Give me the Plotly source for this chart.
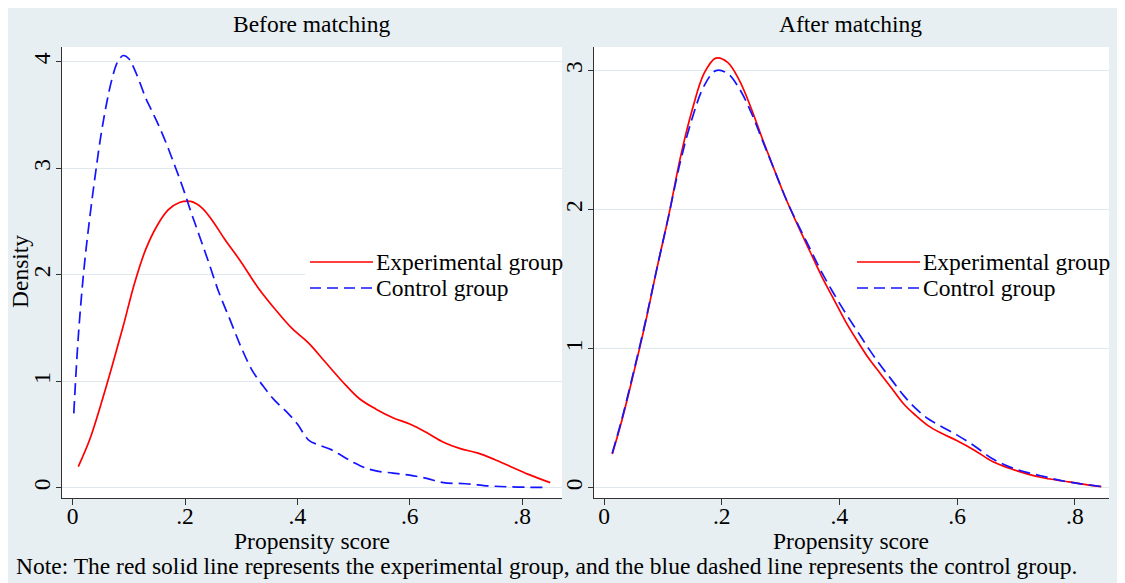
import plotly.graph_objects as go

# ---------------- data ----------------
# Before matching
before_exp_x = [0.01, 0.03, 0.05, 0.07, 0.09, 0.11, 0.13, 0.15, 0.17, 0.19, 0.21, 0.23, 0.25, 0.27,
                0.30, 0.33, 0.36, 0.39, 0.42, 0.45, 0.48, 0.51, 0.54, 0.57, 0.60, 0.63, 0.66, 0.69,
                0.72, 0.75, 0.78, 0.81, 0.85]
before_exp_y = [0.20, 0.45, 0.78, 1.14, 1.52, 1.92, 2.24, 2.46, 2.61, 2.68, 2.69, 2.63, 2.50, 2.34,
                2.12, 1.88, 1.68, 1.50, 1.36, 1.18, 1.00, 0.84, 0.74, 0.66, 0.60, 0.52, 0.43, 0.37,
                0.33, 0.27, 0.20, 0.13, 0.05]

before_ctl_x = [0.002, 0.01, 0.02, 0.03, 0.04, 0.05, 0.06, 0.07, 0.08, 0.09, 0.10, 0.11, 0.12, 0.13,
                0.14, 0.15, 0.16, 0.17, 0.18, 0.19, 0.20, 0.21, 0.22, 0.23, 0.24, 0.26, 0.28, 0.30,
                0.32, 0.34, 0.36, 0.38, 0.40, 0.42, 0.44, 0.46, 0.48, 0.50, 0.52, 0.54, 0.57, 0.60,
                0.63, 0.66, 0.70, 0.74, 0.78, 0.84]
before_ctl_y = [0.70, 1.42, 2.05, 2.52, 2.93, 3.30, 3.60, 3.84, 4.00, 4.06, 4.03, 3.93, 3.80, 3.66,
                3.55, 3.44, 3.32, 3.19, 3.05, 2.91, 2.76, 2.60, 2.45, 2.30, 2.15, 1.84, 1.58, 1.32,
                1.10, 0.95, 0.82, 0.72, 0.60, 0.45, 0.40, 0.36, 0.30, 0.24, 0.19, 0.16, 0.14, 0.12,
                0.09, 0.05, 0.04, 0.02, 0.01, 0.005]

# After matching
after_x = [0.014, 0.03, 0.05, 0.07, 0.09, 0.11, 0.13, 0.15, 0.17, 0.19, 0.21, 0.23, 0.25, 0.27,
           0.29, 0.31, 0.33, 0.35, 0.37, 0.39, 0.41, 0.43, 0.45, 0.47, 0.49, 0.51, 0.53, 0.55,
           0.57, 0.60, 0.63, 0.66, 0.69, 0.72, 0.75, 0.78, 0.81, 0.845]
after_exp_y = [0.245, 0.48, 0.82, 1.18, 1.58, 1.96, 2.38, 2.72, 2.98, 3.09, 3.06, 2.93, 2.73, 2.50,
               2.28, 2.07, 1.88, 1.70, 1.52, 1.36, 1.20, 1.06, 0.93, 0.82, 0.71, 0.60, 0.52, 0.45,
               0.40, 0.34, 0.27, 0.19, 0.14, 0.10, 0.07, 0.05, 0.03, 0.01]
after_ctl_y = [0.25, 0.49, 0.83, 1.19, 1.58, 1.96, 2.35, 2.66, 2.89, 3.00, 2.98, 2.87, 2.70, 2.49,
               2.28, 2.07, 1.89, 1.72, 1.55, 1.40, 1.26, 1.13, 1.00, 0.88, 0.77, 0.66, 0.57, 0.50,
               0.45, 0.38, 0.30, 0.21, 0.15, 0.11, 0.08, 0.05, 0.03, 0.01]

series_names = ["Experimental group", "Control group"]
x_tickvals = [0, 0.2, 0.4, 0.6, 0.8]
x_ticktext = ["0", ".2", ".4", ".6", ".8"]
left_y_ticks = [0, 1, 2, 3, 4]
right_y_ticks = [0, 1, 2, 3]
panel_titles = ["Before matching", "After matching"]
x_title = "Propensity score"
y_title = "Density"
note = "Note: The red solid line represents the experimental group, and the blue dashed line represents the control group."

# ---------------- styling ----------------
OFF = 8                    # page body margin in the browser
W, H = 1109, 575           # figure size (page is 1125x583)
FONT = "Liberation Serif"
RED = "rgb(255,0,0)"
BLUE = "rgb(20,20,255)"
BG = "#e8eff2"
GRID = "#dfe8ec"
AXIS = "#333333"
FS = 23.5


def px(x):
    """screen pixel x -> paper fraction"""
    return (x - OFF) / W


def py(y):
    """screen pixel y -> paper fraction"""
    return (H - (y - OFF)) / H


fig = go.Figure()

fig.add_trace(go.Scatter(x=before_exp_x, y=before_exp_y, name=series_names[0], mode="lines",
                         line=dict(color=RED, width=1.7, shape="spline"), xaxis="x", yaxis="y",
                         showlegend=False))
fig.add_trace(go.Scatter(x=before_ctl_x, y=before_ctl_y, name=series_names[1], mode="lines",
                         line=dict(color=BLUE, width=1.7, dash="12px,6px", shape="spline"),
                         xaxis="x", yaxis="y", showlegend=False))
fig.add_trace(go.Scatter(x=after_x, y=after_exp_y, name=series_names[0], mode="lines",
                         line=dict(color=RED, width=1.7, shape="spline"), xaxis="x2", yaxis="y2",
                         showlegend=False))
fig.add_trace(go.Scatter(x=after_x, y=after_ctl_y, name=series_names[1], mode="lines",
                         line=dict(color=BLUE, width=1.7, dash="12px,6px", shape="spline"),
                         xaxis="x2", yaxis="y2", showlegend=False))

axis_common = dict(showline=True, linecolor=AXIS, linewidth=1.3, ticks="outside", tickcolor=AXIS,
                   tickwidth=1.3, zeroline=False, automargin=False,
                   tickfont=dict(family=FONT, size=FS, color="black"))

ydom = [py(498), py(47)]
fig.update_layout(
    width=W, height=H,
    margin=dict(l=0, r=0, t=0, b=0),
    paper_bgcolor=BG, plot_bgcolor="white",
    font=dict(family=FONT, size=FS, color="black"),
    xaxis=dict(domain=[px(62), px(562)], range=[-0.019, 0.871], tickvals=x_tickvals,
               ticktext=x_ticktext, showgrid=False, ticklen=6, ticklabelstandoff=-9,
               anchor="y", **axis_common),
    yaxis=dict(domain=ydom, range=[-0.094, 4.14], tickvals=left_y_ticks, tickangle=-90,
               showgrid=True, gridcolor=GRID, gridwidth=1, ticklen=5, ticklabelstandoff=-4,
               anchor="x", **axis_common),
    xaxis2=dict(domain=[px(594), px(1109)], range=[-0.017, 0.858], tickvals=x_tickvals,
                ticktext=x_ticktext, showgrid=False, ticklen=6, ticklabelstandoff=-9,
                anchor="y2", **axis_common),
    yaxis2=dict(domain=ydom, range=[-0.072, 3.17], tickvals=right_y_ticks, tickangle=-90,
                showgrid=True, gridcolor=GRID, gridwidth=1, ticklen=5, ticklabelstandoff=-4,
                anchor="x2", **axis_common),
    showlegend=False,
)

shapes = []
annotations = []
# legends (one per panel)
for lx0, box_x0, box_x1 in [(310, 305, 562), (857, 852, 1109)]:
    shapes.append(dict(type="rect", xref="paper", yref="paper", x0=px(box_x0), x1=px(box_x1),
                       y0=py(302), y1=py(248), fillcolor="white", line=dict(width=0),
                       layer="above"))
    shapes.append(dict(type="line", xref="paper", yref="paper", x0=px(lx0), x1=px(lx0 + 63),
                       y0=py(262), y1=py(262), line=dict(color=RED, width=1.7)))
    shapes.append(dict(type="line", xref="paper", yref="paper", x0=px(lx0), x1=px(lx0 + 63),
                       y0=py(288), y1=py(288), line=dict(color=BLUE, width=1.7, dash="11px,6px")))
    annotations.append(dict(text=series_names[0], xref="paper", yref="paper", x=px(lx0 + 64),
                            y=py(262), xanchor="left", yanchor="middle", showarrow=False,
                            font=dict(family=FONT, size=FS)))
    annotations.append(dict(text=series_names[1], xref="paper", yref="paper", x=px(lx0 + 64),
                            y=py(288), xanchor="left", yanchor="middle", showarrow=False,
                            font=dict(family=FONT, size=FS)))

# panel titles and axis titles
for title, cx in zip(panel_titles, [312, 851]):
    annotations.append(dict(text=title, xref="paper", yref="paper", x=px(cx), y=py(24),
                            xanchor="center", yanchor="middle", showarrow=False,
                            font=dict(family=FONT, size=FS)))
    annotations.append(dict(text=x_title, xref="paper", yref="paper", x=px(cx), y=py(541),
                            xanchor="center", yanchor="middle", showarrow=False,
                            font=dict(family=FONT, size=FS)))
annotations.append(dict(text=y_title, xref="paper", yref="paper", x=px(20), y=py(272),
                        xanchor="center", yanchor="middle", textangle=-90, showarrow=False,
                        font=dict(family=FONT, size=FS)))
annotations.append(dict(text=note, xref="paper", yref="paper", x=px(14), y=py(566),
                        xanchor="left", yanchor="middle", showarrow=False,
                        font=dict(family=FONT, size=FS)))

fig.update_layout(shapes=shapes, annotations=annotations)
fig.write_html("out.html")
